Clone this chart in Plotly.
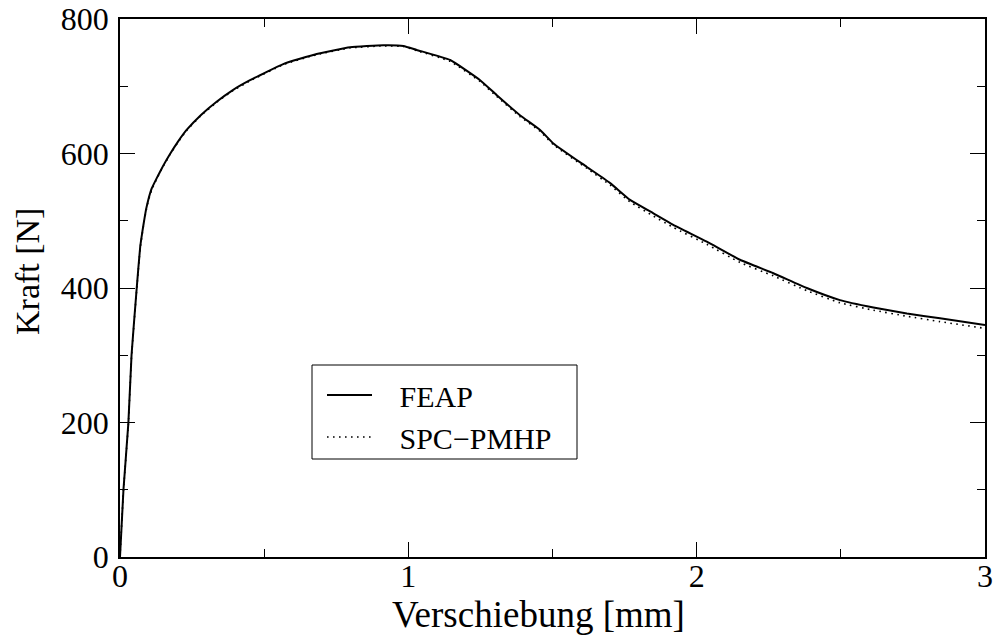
import plotly.graph_objects as go

# Verschiebung [mm] (shared by both runs)
verschiebung = [0, 0.012, 0.029, 0.04, 0.058, 0.07, 0.078, 0.084, 0.091, 0.098,
                0.11, 0.127, 0.15, 0.173, 0.2, 0.231, 0.28, 0.335, 0.39, 0.451,
                0.566, 0.682, 0.798, 0.913, 0.983, 1.029, 1.145, 1.249, 1.306,
                1.387, 1.457, 1.503, 1.619, 1.70, 1.769, 1.85, 1.919, 2.035,
                2.15, 2.266, 2.382, 2.497, 2.613, 2.729, 2.844, 3.0]

# Kraft [N]
kraft_feap = [0, 100, 199, 300, 400, 461, 485, 501, 518, 531,
              548, 563, 582, 599, 617, 635, 657, 677, 694, 709,
              733, 748, 758, 761, 760, 754, 739, 709, 687,
              657, 635, 615, 580, 556, 531, 511, 494, 469,
              442, 422, 400, 382, 371, 362, 355, 345]

kraft_spc = [0, 99, 197, 298, 398, 459, 483, 499, 516, 529,
             546, 562, 581, 598, 616, 634, 656, 676, 693, 708,
             732, 747, 757, 760, 759, 753, 737, 707, 685,
             655, 633, 613, 578, 553, 528, 507, 490, 465,
             438, 418, 396, 378, 367, 358, 350, 340]

FONT = "Liberation Serif, Times New Roman, serif"
PAD = "\u00a0\u00a0\u00a0"

fig = go.Figure()
fig.add_trace(go.Scatter(x=verschiebung, y=kraft_feap, mode="lines", name=PAD + "FEAP",
                         line=dict(color="black", width=2, shape="spline", smoothing=0.4)))
fig.add_trace(go.Scatter(x=verschiebung, y=kraft_spc, mode="lines", name=PAD + "SPC\u2212PMHP",
                         line=dict(color="black", width=1.6, dash="1.6px,4.4px",
                                   shape="spline", smoothing=0.4)))

axis_common = dict(
    showline=True, linecolor="black", linewidth=1.5, mirror="ticks",
    ticks="inside", ticklen=15, tickwidth=1.2, tickcolor="black",
    showgrid=False, zeroline=False, automargin=False,
    tickfont=dict(family=FONT, size=32, color="black"),
)

fig.update_xaxes(range=[0, 3], tickvals=[0, 1, 2, 3],
                 minor=dict(ticks="inside", ticklen=8, tickwidth=1.2, tickcolor="black",
                            dtick=0.5, tick0=0, showgrid=False),
                 ticklabelstandoff=-10, **axis_common)
fig.update_yaxes(range=[0, 800], tickvals=[0, 200, 400, 600, 800],
                 minor=dict(ticks="inside", ticklen=8, tickwidth=1.2, tickcolor="black",
                            dtick=100, tick0=0, showgrid=False),
                 ticklabelstandoff=3, **axis_common)

# Legend frame
fig.add_shape(type="rect", xref="paper", yref="paper",
              x0=(312 - 120) / 865, x1=(577 - 120) / 865,
              y0=(557 - 459) / 538, y1=(557 - 365) / 538,
              line=dict(color="black", width=1), fillcolor="white", layer="below")

fig.add_annotation(text="Verschiebung [mm]", xref="paper", yref="paper",
                   x=(538 - 120) / 865, y=(557 - 614) / 538,
                   xanchor="center", yanchor="middle", showarrow=False,
                   font=dict(family=FONT, size=37, color="black"))
fig.add_annotation(text="Kraft [N]", xref="paper", yref="paper",
                   x=(27 - 120) / 865, y=(557 - 272) / 538, textangle=-90,
                   xanchor="center", yanchor="middle", showarrow=False,
                   font=dict(family=FONT, size=34, color="black"))

fig.update_layout(
    width=996, height=644,
    margin=dict(l=120, r=11, t=19, b=87),
    paper_bgcolor="white", plot_bgcolor="white",
    showlegend=True,
    legend=dict(x=(322 - 120) / 865, y=(557 - 369) / 538, xanchor="left", yanchor="top",
                bgcolor="rgba(0,0,0,0)", borderwidth=0,
                font=dict(family=FONT, size=30, color="black"),
                itemwidth=45, tracegroupgap=0),
)

fig.write_html("out.html")
